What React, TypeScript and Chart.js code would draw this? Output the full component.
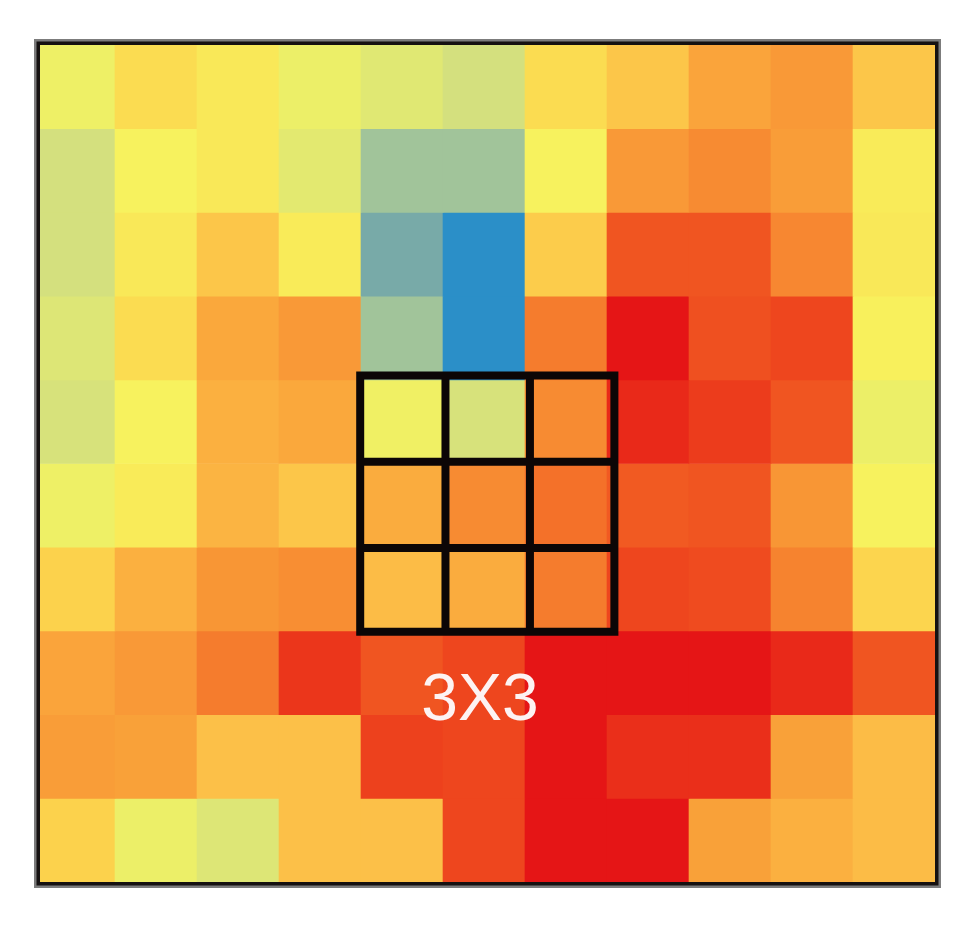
import React, { useEffect, useRef } from "react";
import { Chart, registerables } from "chart.js";

Chart.register(...registerables);

// ---- Data (heat values, 0 = coolest blue, 100 = hottest red) ----
const COLUMN_COUNT = 11;
const ROW_0 = [43, 55, 51, 42, 38, 34, 55, 62, 71, 74, 62];
const ROW_1 = [34, 47, 51, 39, 22, 22, 47, 74, 78, 73, 50];
const ROW_2 = [34, 51, 62, 50, 12, 0, 60, 89, 89, 79, 51];
const ROW_3 = [37, 55, 70, 74, 22, 0, 82, 100, 90, 92, 48];
const ROW_4 = [35, 47, 68, 70, 44, 35, 78, 97, 94, 89, 42];
const ROW_5 = [43, 50, 67, 62, 69, 78, 84, 88, 89, 75, 47];
const ROW_6 = [58, 68, 75, 77, 65, 69, 82, 92, 91, 80, 57];
const ROW_7 = [71, 74, 82, 95, 89, 92, 100, 100, 100, 97, 89];
const ROW_8 = [73, 72, 64, 64, 93, 92, 100, 96, 96, 72, 65];
const ROW_9 = [58, 42, 37, 64, 64, 92, 100, 100, 72, 68, 65];
const HEAT_ROWS = [ROW_0, ROW_1, ROW_2, ROW_3, ROW_4, ROW_5, ROW_6, ROW_7, ROW_8, ROW_9];

// visible window of the grid (in cell units)
const X_MIN = 0.085;
const X_MAX = COLUMN_COUNT;
const Y_MIN = 0;
const Y_MAX = HEAT_ROWS.length;

// 3x3 kernel overlay (grid-line positions in cell units) and its label
const BOX_X_LINES = [3.99, 5.03, 6.06, 7.09];
const BOX_Y_LINES = [3.95, 4.98, 6.01, 7.01];
const BOX_LABEL = "3X3";
const LABEL_X = 5.45;
const LABEL_Y = 8.065;

// ---- Colour map ----
const STOP_VALUES = [0, 12, 22, 34, 42, 47, 52, 58, 64, 70, 76, 82, 88, 94, 100];
const STOP_COLORS: number[][] = [
  [43, 143, 200],
  [120, 170, 168],
  [161, 196, 154],
  [212, 224, 126],
  [236, 239, 104],
  [247, 242, 94],
  [250, 230, 86],
  [252, 210, 76],
  [252, 192, 72],
  [250, 168, 60],
  [248, 146, 52],
  [245, 124, 45],
  [241, 90, 34],
  [236, 60, 28],
  [229, 21, 22],
];

function colorFor(v: number): string {
  for (let i = 1; i < STOP_VALUES.length; i++) {
    if (v <= STOP_VALUES[i]) {
      const t = (v - STOP_VALUES[i - 1]) / (STOP_VALUES[i] - STOP_VALUES[i - 1]);
      const a = STOP_COLORS[i - 1];
      const b = STOP_COLORS[i];
      const c = a.map((ch, k) => Math.round(ch + (b[k] - ch) * t));
      return `rgb(${c[0]},${c[1]},${c[2]})`;
    }
  }
  const l = STOP_COLORS[STOP_COLORS.length - 1];
  return `rgb(${l[0]},${l[1]},${l[2]})`;
}

const overlayPlugin = {
  id: "kernelOverlay",
  afterDatasetsDraw(chart: any) {
    const { ctx, chartArea: a } = chart;
    const xs = chart.scales.x;
    const ys = chart.scales.y;
    ctx.save();
    // frame
    ctx.strokeStyle = "#7c7c7c";
    ctx.lineWidth = 6;
    ctx.strokeRect(a.left - 3, a.top - 3, a.right - a.left + 6, a.bottom - a.top + 6);
    ctx.strokeStyle = "#151111";
    ctx.lineWidth = 3.5;
    ctx.strokeRect(a.left - 1.75, a.top - 1.75, a.right - a.left + 3.5, a.bottom - a.top + 3.5);

    // 3x3 grid
    const px = BOX_X_LINES.map((v) => xs.getPixelForValue(v));
    const py = BOX_Y_LINES.map((v) => ys.getPixelForValue(v));
    ctx.strokeStyle = "#0c0606";
    ctx.lineWidth = 8;
    ctx.lineCap = "square";
    ctx.beginPath();
    px.forEach((x: number) => {
      ctx.moveTo(x, py[0]);
      ctx.lineTo(x, py[py.length - 1]);
    });
    py.forEach((y: number) => {
      ctx.moveTo(px[0], y);
      ctx.lineTo(px[px.length - 1], y);
    });
    ctx.stroke();

    // label
    ctx.fillStyle = "#fdf3f3";
    ctx.font = '66px "Liberation Sans", Arial, sans-serif';
    ctx.textAlign = "center";
    ctx.textBaseline = "alphabetic";
    ctx.fillText(BOX_LABEL, xs.getPixelForValue(LABEL_X), ys.getPixelForValue(LABEL_Y));
    ctx.restore();
  },
};

export default function App() {
  const canvasRef = useRef<HTMLCanvasElement | null>(null);

  useEffect(() => {
    if (!canvasRef.current) return;
    const datasets = HEAT_ROWS.map((row, r) => ({
      label: `row ${r}`,
      data: row.map((_, c) => ({ x: c + 0.5, y: [r, r + 1] })),
      backgroundColor: row.map((v) => colorFor(v)),
      borderWidth: 0,
      grouped: false,
      barPercentage: 1,
      categoryPercentage: 1,
    }));
    const chart = new Chart(canvasRef.current, {
      type: "bar",
      data: { datasets: datasets as any },
      options: {
        animation: false,
        responsive: false,
        layout: { padding: { left: 40, top: 45, right: 43, bottom: 48 } },
        plugins: { legend: { display: false }, tooltip: { enabled: false } },
        scales: {
          x: {
            type: "linear",
            display: false,
            offset: false,
            min: X_MIN,
            max: X_MAX,
            ticks: { stepSize: 1, includeBounds: false },
            grid: { offset: false },
          },
          y: {
            type: "linear",
            display: false,
            min: Y_MIN,
            max: Y_MAX,
            reverse: true,
          },
        },
      },
      plugins: [overlayPlugin],
    });
    return () => chart.destroy();
  }, []);

  return (
    <div style={{ position: "fixed", left: 0, top: 0, width: 978, height: 930, background: "#ffffff" }}>
      <canvas ref={canvasRef} width={978} height={930} />
    </div>
  );
}
